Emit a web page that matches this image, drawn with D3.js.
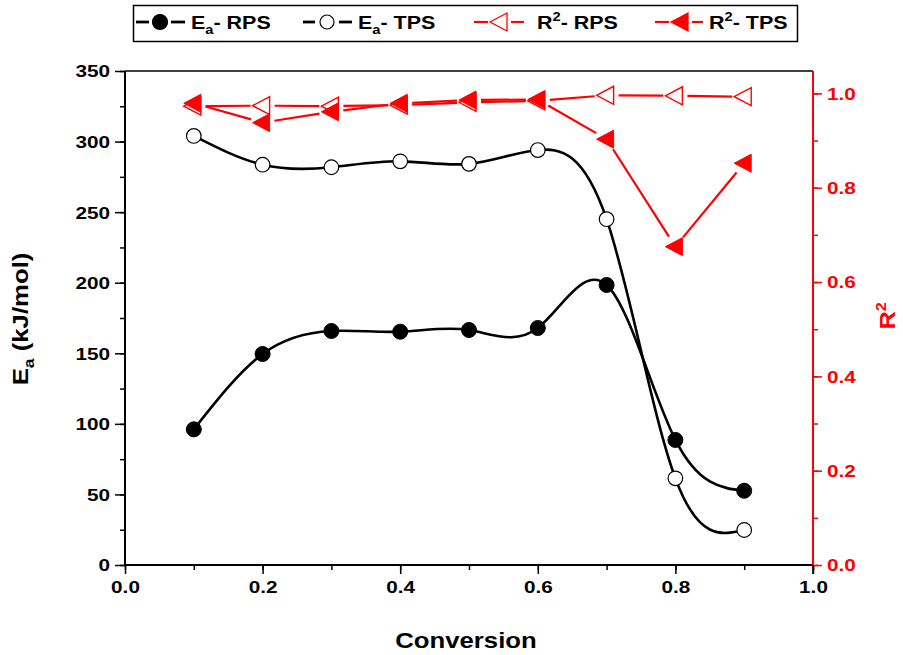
<!DOCTYPE html>
<html>
<head>
<meta charset="utf-8">
<script src="https://cdn.jsdelivr.net/npm/d3@7"></script>
<style>
  body { margin: 0; background: #fff; }
  svg { display: block; }
  text { font-family: "Liberation Sans", Arial, sans-serif; font-weight: bold; }
</style>
</head>
<body>
<svg id="chart" width="903" height="655"></svg>
<script>
// ---- data ----
const conversion = [0.1, 0.2, 0.3, 0.4, 0.5, 0.6, 0.7, 0.8, 0.9];
const eaRPS = [96.1, 149.5, 165.8, 165.3, 166.5, 167.9, 198.4, 88.6, 52.6];
const eaTPS = [304.0, 283.6, 281.8, 286.0, 284.2, 294.0, 245.0, 61.4, 24.8];
const r2RPS = [0.973, 0.974, 0.973, 0.975, 0.981, 0.984, 0.996, 0.995, 0.993];
const r2TPS = [0.979, 0.938, 0.961, 0.979, 0.986, 0.987, 0.903, 0.675, 0.852];
const xTicks = [0.0, 0.2, 0.4, 0.6, 0.8, 1.0];
const yLeftTicks = [0, 50, 100, 150, 200, 250, 300, 350];
const yRightTicks = [0.0, 0.2, 0.4, 0.6, 0.8, 1.0];
const legendLabels = [
  { main: "E", sub: "a", sup: null, rest: "- RPS" },
  { main: "E", sub: "a", sup: null, rest: "- TPS" },
  { main: "R", sub: null, sup: "2", rest: "- RPS" },
  { main: "R", sub: null, sup: "2", rest: "- TPS" }
];

const svg = d3.select("#chart");
const L = 125, R = 813, T = 71, B = 565;
const RED = "#ff0000";

const x = d3.scaleLinear().domain([0, 1]).range([L, R]);
const yL = d3.scaleLinear().domain([0, 350]).range([B, T]);
const yR = d3.scaleLinear().domain([0, 1.0475]).range([B, T]);

// horizontally widen text glyphs around their anchor point
function stretch(sel, f) {
  sel.each(function () {
    const el = d3.select(this);
    const ax = +el.attr("x") || 0, ay = +el.attr("y") || 0;
    const tr = el.attr("transform") || "";
    el.attr("transform", `${tr} translate(${ax},${ay}) scale(${f},1) translate(${-ax},${-ay})`);
  });
}

// ---- axes ----
const fmt1 = d3.format(".1f");
const SX = 1.22;
// bottom
const xMinor = d3.range(0, 1.0001, 0.1);
svg.append("g").attr("transform", `translate(0,${B})`)
  .call(d3.axisBottom(x).tickValues(xMinor).tickSize(5).tickFormat(""))
  .call(g => g.select(".domain").remove())
  .call(g => g.selectAll("line").attr("stroke", "#000").attr("stroke-width", 1.5));
svg.append("g").attr("transform", `translate(0,${B})`)
  .call(d3.axisBottom(x).tickValues(xTicks).tickSize(9).tickPadding(7).tickFormat(fmt1))
  .call(g => g.select(".domain").attr("stroke-width", 2).attr("d", `M${L},0H${R}`))
  .call(g => g.selectAll("line").attr("stroke-width", 1.5))
  .call(g => g.selectAll("text").attr("font-size", 17).attr("fill", "#000").call(stretch, SX));

// top frame line
svg.append("line").attr("x1", L).attr("x2", R).attr("y1", T).attr("y2", T)
  .attr("stroke", "#000").attr("stroke-width", 1.5);

// left
const yLMinor = d3.range(0, 351, 25);
svg.append("g").attr("transform", `translate(${L},0)`)
  .call(d3.axisLeft(yL).tickValues(yLMinor).tickSize(5).tickFormat(""))
  .call(g => g.select(".domain").remove())
  .call(g => g.selectAll("line").attr("stroke-width", 1.5));
svg.append("g").attr("transform", `translate(${L},0)`)
  .call(d3.axisLeft(yL).tickValues(yLeftTicks).tickSize(10).tickPadding(5).tickFormat(d3.format("d")))
  .call(g => g.select(".domain").attr("stroke-width", 2).attr("d", `M0,${B}V${T}`))
  .call(g => g.selectAll("line").attr("stroke-width", 1.5))
  .call(g => g.selectAll("text").attr("font-size", 17).attr("fill", "#000").attr("dy", "0.35em").call(stretch, SX));

// right
const yRMinor = d3.range(0, 1.0001, 0.1);
svg.append("g").attr("transform", `translate(${R},0)`)
  .call(d3.axisRight(yR).tickValues(yRMinor).tickSize(5).tickFormat(""))
  .call(g => g.select(".domain").remove())
  .call(g => g.selectAll("line").attr("stroke", RED).attr("stroke-width", 1.5));
svg.append("g").attr("transform", `translate(${R},0)`)
  .call(d3.axisRight(yR).tickValues(yRightTicks).tickSize(9).tickPadding(5).tickFormat(fmt1))
  .call(g => g.select(".domain").attr("stroke", RED).attr("stroke-width", 2).attr("d", `M0,${B}V${T}`))
  .call(g => g.selectAll("line").attr("stroke", RED).attr("stroke-width", 1.5))
  .call(g => g.selectAll("text").attr("font-size", 17).attr("fill", RED).attr("dy", "0.35em").call(stretch, SX));

// bottom-right black stub tick below corner
svg.append("line").attr("x1", R).attr("x2", R).attr("y1", B).attr("y2", B + 9)
  .attr("stroke", "#000").attr("stroke-width", 1.5);

// axis titles
svg.append("text").attr("x", 466).attr("y", 648).attr("text-anchor", "middle")
  .attr("font-size", 22).text("Conversion").call(stretch, 1.17);
const yt = svg.append("text").attr("transform", `translate(28,319) rotate(-90)`)
  .attr("text-anchor", "middle").attr("font-size", 22);
yt.append("tspan").text("E");
yt.append("tspan").attr("font-size", 15).attr("dy", 6).text("a");
yt.append("tspan").attr("dy", -6).text(" (kJ/mol)");
yt.call(stretch, 1.17);
const rt = svg.append("text").attr("transform", `translate(895,316) rotate(-90)`)
  .attr("text-anchor", "middle").attr("font-size", 22).attr("fill", RED);
rt.append("tspan").text("R");
rt.append("tspan").attr("font-size", 14).attr("dy", -9).text("2");
rt.call(stretch, 1.15);

// ---- Ea curves ----
const curve = (vals) => d3.line()
  .x((d, i) => x(conversion[i]))
  .y(d => yL(d))
  .curve(d3.curveNatural)(vals);

svg.append("path").attr("d", curve(eaTPS)).attr("fill", "none")
  .attr("stroke", "#000").attr("stroke-width", 2.6);
svg.append("path").attr("d", curve(eaRPS)).attr("fill", "none")
  .attr("stroke", "#000").attr("stroke-width", 2.6);

// ---- R2 lines with gaps ----
function gappedSegments(vals, gap) {
  const pts = vals.map((v, i) => [x(conversion[i]), yR(v)]);
  const segs = [];
  for (let i = 0; i < pts.length - 1; i++) {
    const [x0, y0] = pts[i], [x1, y1] = pts[i + 1];
    const dx = x1 - x0, dy = y1 - y0, len = Math.hypot(dx, dy);
    const ux = dx / len, uy = dy / len;
    segs.push([x0 + ux * gap, y0 + uy * gap, x1 - ux * gap, y1 - uy * gap]);
  }
  return segs;
}
[r2RPS, r2TPS].forEach(vals => {
  svg.append("g").selectAll("line").data(gappedSegments(vals, 12)).join("line")
    .attr("x1", d => d[0]).attr("y1", d => d[1]).attr("x2", d => d[2]).attr("y2", d => d[3])
    .attr("stroke", RED).attr("stroke-width", 2.2);
});

// triangle pointing left
const tri = (cx, cy) => `M${cx - 10},${cy}L${cx + 7},${cy - 9}L${cx + 7},${cy + 9}Z`;

svg.append("g").selectAll("path").data(r2RPS).join("path")
  .attr("d", (d, i) => tri(x(conversion[i]), yR(d)))
  .attr("fill", "#fff").attr("stroke", RED).attr("stroke-width", 1.4);
svg.append("g").selectAll("path").data(r2TPS).join("path")
  .attr("d", (d, i) => tri(x(conversion[i]), yR(d)))
  .attr("fill", RED).attr("stroke", RED).attr("stroke-width", 1);

// ---- circle markers ----
svg.append("g").selectAll("circle").data(eaTPS).join("circle")
  .attr("cx", (d, i) => x(conversion[i])).attr("cy", d => yL(d)).attr("r", 7.3)
  .attr("fill", "#fff").attr("stroke", "#000").attr("stroke-width", 1.2);
svg.append("g").selectAll("circle").data(eaRPS).join("circle")
  .attr("cx", (d, i) => x(conversion[i])).attr("cy", d => yL(d)).attr("r", 7.5)
  .attr("fill", "#000").attr("stroke", "#000").attr("stroke-width", 1);

// ---- legend ----
const lg = svg.append("g");
lg.append("rect").attr("x", 133.5).attr("y", 5.5).attr("width", 664).attr("height", 36)
  .attr("fill", "#fff").attr("stroke", "#000").attr("stroke-width", 1.5);
const ly = 22;
const legendLayout = [
  { d1: [136, 149], cx: 160, d2: [171, 185], tx: 191, color: "#000", sym: "circle", fill: "#000" },
  { d1: [303, 315], cx: 327, d2: [339, 352], tx: 358, color: "#000", sym: "circle", fill: "#fff" },
  { d1: [474, 488], cx: 500, d2: [511, 524], tx: 537, color: RED, sym: "tri", fill: "#fff" },
  { d1: [655, 669], cx: 681, d2: [692, 703], tx: 709, color: RED, sym: "tri", fill: RED }
];
legendLayout.forEach((it, k) => {
  const lab = legendLabels[k];
  const sw = it.sym === "circle" ? 2.8 : 2.2;
  lg.append("line").attr("x1", it.d1[0]).attr("x2", it.d1[1]).attr("y1", ly).attr("y2", ly)
    .attr("stroke", it.color).attr("stroke-width", sw);
  lg.append("line").attr("x1", it.d2[0]).attr("x2", it.d2[1]).attr("y1", ly).attr("y2", ly)
    .attr("stroke", it.color).attr("stroke-width", sw);
  if (it.sym === "circle") {
    lg.append("circle").attr("cx", it.cx).attr("cy", ly).attr("r", it.fill === "#000" ? 7.5 : 7)
      .attr("fill", it.fill).attr("stroke", "#000").attr("stroke-width", 1.2);
  } else {
    lg.append("path").attr("d", tri(it.cx, ly)).attr("fill", it.fill)
      .attr("stroke", RED).attr("stroke-width", 1.3);
  }
  const t = lg.append("text").attr("x", it.tx).attr("y", ly + 7).attr("font-size", 19).attr("fill", "#000");
  t.append("tspan").text(lab.main);
  if (lab.sub) {
    t.append("tspan").attr("font-size", 13).attr("dy", 5).text(lab.sub);
    t.append("tspan").attr("dy", -5).text(lab.rest);
  } else {
    t.append("tspan").attr("font-size", 13).attr("dy", -8).text(lab.sup);
    t.append("tspan").attr("dy", 8).text(lab.rest);
  }
  t.call(stretch, 1.13);
});
</script>
</body>
</html>
